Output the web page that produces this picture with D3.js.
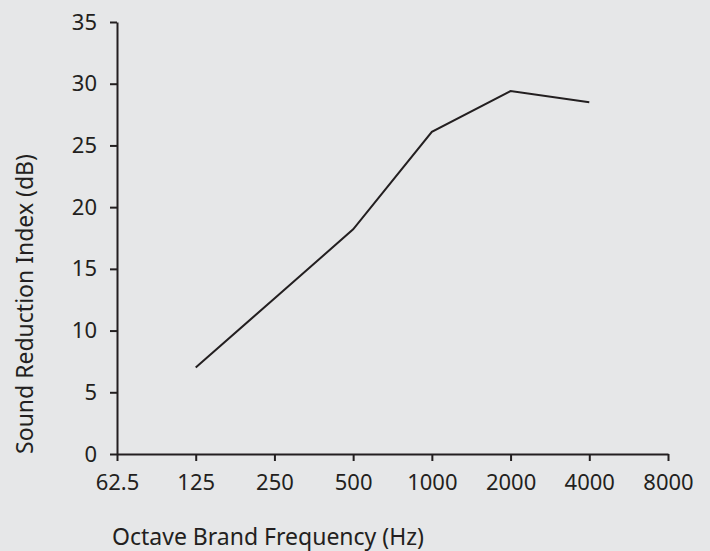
<!DOCTYPE html>
<html>
<head>
<meta charset="utf-8">
<script src="https://cdn.jsdelivr.net/npm/d3@7"></script>
<style>
  html, body { margin: 0; padding: 0; background: #e6e7e8; }
  svg { display: block; font-family: "Noto Sans", sans-serif; }
  .axis path, .axis line { stroke: #231f20; stroke-width: 2; }
  .axis text { fill: #231f20; font-size: 22px; font-family: "Noto Sans", sans-serif; }
</style>
</head>
<body>
<svg id="chart" width="710" height="551"></svg>
<script>
// frequencies (Hz) for the ticks and the measured points
var freqTicks = [62.5, 125, 250, 500, 1000, 2000, 4000, 8000];
var frequencies = [125, 250, 500, 1000, 2000, 4000];
// sound reduction index (dB)
var sriValues = [7.0, 12.6, 18.2, 26.1, 29.4, 28.5];
var yTicks = [0, 5, 10, 15, 20, 25, 30, 35];

var svg = d3.select("#chart");
var ink = "#231f20";

var x = d3.scaleLog().base(2).domain([62.5, 8000]).range([117, 668]);
var y = d3.scaleLinear().domain([0, 35]).range([454, 22]);

//axes
var xaxis = svg.append("g")
    .attr("class", "axis axis--x")
    .attr("transform", "translate(0," + y(0) + ")")
    .call(d3.axisBottom(x).tickValues(freqTicks).tickFormat(function(d){return String(d)})
      .tickSize(7).tickSizeOuter(0).tickPadding(13));

var yaxis = svg.append("g")
    .attr("class", "axis axis--y")
    .attr("transform", "translate(" + x(62.5) + ",0)")
    .call(d3.axisLeft(y).tickValues(yTicks).tickSize(7).tickSizeOuter(0).tickPadding(13));

//line
var data = frequencies.map(function(f, i){ return {f: f, v: sriValues[i]}; });
var line = d3.line()
    .x(function(d){ return x(d.f); })
    .y(function(d){ return y(d.v); });

svg.append("path")
    .datum(data)
    .attr("fill", "none")
    .attr("stroke", ink)
    .attr("stroke-width", 2)
    .attr("stroke-linejoin", "miter")
    .attr("d", line);

//axis titles
svg.append("text")
    .attr("x", 268)
    .attr("y", 545)
    .attr("text-anchor", "middle")
    .attr("fill", ink)
    .style("font-size", "23px")
    .text("Octave Brand Frequency (Hz)");

svg.append("text")
    .attr("transform", "translate(33,304) rotate(-90)")
    .attr("text-anchor", "middle")
    .attr("fill", ink)
    .style("font-size", "23px")
    .text("Sound Reduction Index (dB)");
</script>
</body>
</html>
